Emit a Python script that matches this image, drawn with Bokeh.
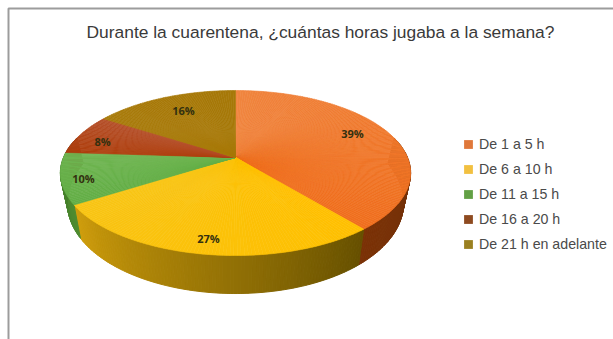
import numpy as np
from bokeh.core.properties import value
from bokeh.embed import file_html
from bokeh.models import ColumnDataSource, Legend, LegendItem
from bokeh.plotting import figure
from bokeh.resources import INLINE

title = "Durante la cuarentena, ¿cuántas horas jugaba a la semana?"
categories = ["De 1 a 5 h", "De 6 a 10 h", "De 11 a 15 h", "De 16 a 20 h", "De 21 h en adelante"]
shares = [39, 27, 10, 8, 16]

# Colours of each slice: top face at its clockwise start and end, wall at both ends.
top_start = ["#F0853F", "#FFC000", "#62AE45", "#AE3E0C", "#A87A0A"]
top_end = ["#F06F1E", "#F8C414", "#70B552", "#B5502A", "#A67808"]
wall_start = ["#5C2C0A", "#665000", "#4F8C30", "#6E2A08", "#6E5006"]
wall_end = ["#7B3207", "#D09E0C", "#3F7A28", "#6E2A08", "#6E5006"]
swatches = ["#E0783A", "#F2C040", "#62A045", "#8E4A20", "#9A8020"]

# Perspective projection of the pie disc onto the page, in page pixels.
APEX_X, APEX_Y = 235.0, 157.0
RADIUS_X, RADIUS_Y = 172.0, 79.6
TILT = 0.188
WALL_BASE = 28.0
WALL_SWELL = 10.0
WALL_TAPER = 0.96
STEP_DEG = 1.0

LABEL_X = [352, 208, 83, 102, 183]
LABEL_Y = [133, 238, 178, 141, 110]


def project(theta_deg, frac=1.0):
    t = np.radians(theta_deg)
    u, v = frac * np.cos(t), frac * np.sin(t)
    w = 1 + TILT * v
    return APEX_X + RADIUS_X * u / w, APEX_Y - RADIUS_Y * v / w


def project_base(theta_deg):
    x, y = project(theta_deg)
    drop = WALL_BASE - WALL_SWELL * np.sin(np.radians(theta_deg))
    return APEX_X + (x - APEX_X) * WALL_TAPER, y + drop


def blend(c0, c1, f):
    a = np.array([int(c0[i:i + 2], 16) for i in (1, 3, 5)])
    b = np.array([int(c1[i:i + 2], 16) for i in (1, 3, 5)])
    r = np.round(a + (b - a) * f).astype(int)
    return "#%02x%02x%02x" % tuple(r)


p = figure(width=613, height=339, x_range=(0, 613), y_range=(339, 0),
           toolbar_location=None, output_backend="svg", min_border=0,
           outline_line_color=None, background_fill_color="white")
p.axis.visible = False
p.grid.visible = False

# Chart frame: only the top and left edges fall inside the page.
p.multi_line([[8, 8, 613]], [[339, 8, 8]], line_color="#9C9C9C", line_width=2)

edges = 90 - np.cumsum([0] + shares) * 3.6

# Walls first, so the top faces cover their hidden parts.
for i in range(len(shares)):
    a0, a1 = edges[i], edges[i + 1]
    n = max(int(abs(a1 - a0) / STEP_DEG), 1)
    steps = np.linspace(a0, a1, n + 1)
    xs, ys, colors = [], [], []
    for k in range(n):
        mid = (steps[k] + steps[k + 1]) / 2
        if np.sin(np.radians(mid)) > 0.25:
            continue
        x0, y0 = project(steps[k])
        x1, y1 = project(steps[k + 1])
        bx0, by0 = project_base(steps[k])
        bx1, by1 = project_base(steps[k + 1])
        xs.append([x0, x1, bx1, bx0])
        ys.append([y0, y1, by1, by0])
        colors.append(blend(wall_start[i], wall_end[i], (k + 0.5) / n))
    if xs:
        p.patches(xs, ys, fill_color=colors, line_color=colors, line_width=1)

# Top face of each slice, built as a fan of thin wedges.
legend_items = []
for i, name in enumerate(categories):
    a0, a1 = edges[i], edges[i + 1]
    n = max(int(abs(a1 - a0) / STEP_DEG), 1)
    steps = np.linspace(a0, a1, n + 1)
    xs, ys, colors = [], [], []
    for k in range(n):
        x0, y0 = project(steps[k])
        x1, y1 = project(steps[k + 1])
        xs.append([APEX_X, x0, x1])
        ys.append([APEX_Y, y0, y1])
        colors.append(blend(top_start[i], top_end[i], (k + 0.5) / n))
    p.patches(xs, ys, fill_color=colors, line_color=colors, line_width=0.6)
    # Legend key for this slice, drawn outside the visible page.
    key = p.scatter([-50], [-50], marker="square", size=9, color=swatches[i], line_color=None)
    legend_items.append(LegendItem(label=name, renderers=[key]))

labels = ColumnDataSource(dict(x=LABEL_X, y=LABEL_Y, text=[f"{s}%" for s in shares]))
p.text("x", "y", text="text", source=labels, text_align="center", text_baseline="middle",
       text_font=value("Open Sans"), text_font_size="11px", text_font_style="bold",
       text_color="#33300F")

p.text([320], [31], text=[title], text_align="center", text_baseline="middle",
       text_font=value("Liberation Sans"), text_font_size="17.4px", text_color="#3A3A3A")

legend = Legend(items=legend_items, location=(457, 84), orientation="vertical",
                background_fill_alpha=0, border_line_color=None, spacing=3,
                padding=0, margin=0, glyph_width=22, glyph_height=22, label_standoff=0,
                label_text_font="Liberation Sans", label_text_font_size="14.2px",
                label_text_color="#4A4A4A", label_height=14)
p.add_layout(legend, "center")

open("out.html", "w").write(file_html(p, INLINE))
